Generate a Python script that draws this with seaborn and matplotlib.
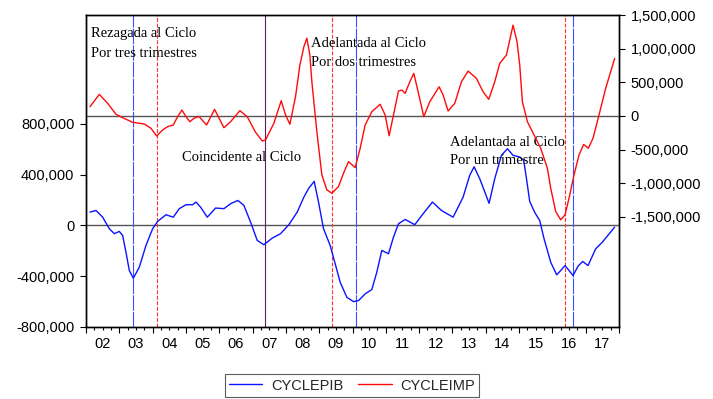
import matplotlib
matplotlib.use("Agg")
import matplotlib.pyplot as plt
import matplotlib.ticker as mticker
from matplotlib.lines import Line2D
import numpy as np
import pandas as pd
import seaborn as sns

# ---------------- data ----------------
series_names = ["CYCLEPIB", "CYCLEIMP"]

pib_year = [2002.12, 2002.30, 2002.50, 2002.70, 2002.85, 2003.00, 2003.10, 2003.20, 2003.30, 2003.42,
            2003.60, 2003.80, 2004.00, 2004.15, 2004.40, 2004.62, 2004.80, 2005.00, 2005.20, 2005.30,
            2005.44, 2005.64, 2005.89, 2006.14, 2006.34, 2006.56, 2006.74, 2006.94, 2007.14, 2007.34,
            2007.59, 2007.84, 2008.09, 2008.34, 2008.54, 2008.68, 2008.85, 2008.98, 2009.13, 2009.33,
            2009.48, 2009.63, 2009.83, 2010.03, 2010.18, 2010.38, 2010.58, 2010.73, 2010.88, 2011.08,
            2011.23, 2011.38, 2011.58, 2011.87, 2012.12, 2012.40, 2012.67, 2013.02, 2013.32, 2013.52,
            2013.65, 2013.82, 2014.10, 2014.27, 2014.47, 2014.65, 2014.82, 2015.02, 2015.14, 2015.23,
            2015.32, 2015.47, 2015.62, 2015.75, 2015.95, 2016.13, 2016.25, 2016.38, 2016.50, 2016.62,
            2016.77, 2016.91, 2017.07, 2017.30, 2017.50, 2017.87]
pib_value = [105000, 118000, 65000, -26000, -65000, -47000, -79000, -211000, -355000, -416000,
             -329000, -158000, -26000, 32000, 84000, 65000, 132000, 163000, 163000, 184000,
             144000, 65000, 137000, 132000, 171000, 197000, 158000, 26000, -118000, -152000,
             -100000, -65000, 6000, 105000, 223000, 290000, 347000, 184000, -26000, -158000,
             -302000, -447000, -566000, -600000, -592000, -539000, -505000, -368000, -197000, -223000,
             -92000, 13000, 47000, 6000, 92000, 184000, 118000, 65000, 223000, 395000,
             462000, 368000, 174000, 368000, 552000, 604000, 552000, 539000, 513000, 355000,
             189000, 103000, 39000, -105000, -290000, -389000, -355000, -316000, -355000, -395000,
             -321000, -284000, -316000, -184000, -132000, -13000]

imp_year = [2002.12, 2002.40, 2002.65, 2002.90, 2003.10, 2003.40, 2003.75, 2003.95, 2004.12, 2004.30,
            2004.45, 2004.62, 2004.75, 2004.88, 2005.00, 2005.12, 2005.24, 2005.39, 2005.62, 2005.86,
            2006.14, 2006.34, 2006.62, 2006.84, 2007.09, 2007.29, 2007.39, 2007.64, 2007.86, 2007.99,
            2008.12, 2008.29, 2008.42, 2008.54, 2008.63, 2008.72, 2008.78, 2008.93, 2009.08, 2009.23,
            2009.38, 2009.58, 2009.73, 2009.88, 2010.08, 2010.23, 2010.38, 2010.58, 2010.83, 2010.98,
            2011.10, 2011.23, 2011.38, 2011.48, 2011.58, 2011.72, 2011.84, 2011.97, 2012.14, 2012.32,
            2012.60, 2012.72, 2012.87, 2013.07, 2013.27, 2013.47, 2013.72, 2013.92, 2014.09, 2014.27,
            2014.42, 2014.62, 2014.82, 2014.94, 2015.02, 2015.10, 2015.25, 2015.45, 2015.65, 2015.85,
            2015.95, 2016.10, 2016.25, 2016.38, 2016.50, 2016.65, 2016.80, 2016.94, 2017.08, 2017.22,
            2017.40, 2017.60, 2017.87]
imp_value = [138000, 322000, 189000, 25000, -25000, -94000, -119000, -183000, -297000, -208000,
             -159000, -134000, -10000, 89000, -10000, -85000, -34000, -7000, -134000, 99000,
             -174000, -85000, 79000, -10000, -242000, -371000, -356000, -108000, 227000, 15000,
             -123000, 287000, 757000, 1029000, 1158000, 906000, 509000, -233000, -876000, -1099000,
             -1148000, -1050000, -851000, -679000, -768000, -480000, -134000, 64000, 174000, 15000,
             -293000, 15000, 371000, 386000, 337000, 509000, 634000, 361000, -10000, 212000,
             435000, 312000, 74000, 189000, 509000, 668000, 560000, 361000, 248000, 509000,
             783000, 906000, 1351000, 1103000, 757000, 212000, -85000, -282000, -480000, -777000,
             -1074000, -1421000, -1544000, -1470000, -1222000, -876000, -579000, -423000, -480000, -331000,
             15000, 411000, 857000]

year_labels = ["02", "03", "04", "05", "06", "07", "08", "09", "10",
               "11", "12", "13", "14", "15", "16", "17"]
left_ticks = [-800000, -400000, 0, 400000, 800000]
right_ticks = [-1500000, -1000000, -500000, 0, 500000, 1000000, 1500000]

blue_markers = [2003.40, 2010.12, 2016.62]
red_markers = [2004.135, 2009.387, 2016.376]
coincident_markers = [2007.38]

annotation_texts = ["Rezagada al Ciclo", "Por tres trimestres",
                    "Coincidente al Ciclo",
                    "Adelantada al Ciclo", "Por dos trimestres",
                    "Adelantada al Ciclo", "Por un trimestre"]

# ---------------- style ----------------
sns.set_style("ticks")
plt.rcParams['font.family'] = ['Liberation Sans', 'DejaVu Sans']

BLUE = "#0a14ff"
RED = "#ff0a0a"

fig = plt.figure(figsize=(7.13, 3.99), dpi=100)
W, H = 713, 399
ax = fig.add_axes([86 / W, 1 - 327 / H, 533 / W, 312 / H])
ax2 = ax.twinx()

pib_df = pd.DataFrame({"year": pib_year, "value": pib_value})
imp_df = pd.DataFrame({"year": imp_year, "value": imp_value})

# zero reference lines
ax.axhline(0, color="#555555", lw=1.0, zorder=1)
ax2.axhline(0, color="#555555", lw=1.0, zorder=1)

# marker lines
for xv in blue_markers:
    ax.axvline(xv, color="#3a50ff", lw=0.8, dashes=(14, 1.0), zorder=2)
for xv in red_markers:
    ax.axvline(xv, color="#ff3030", lw=0.8, dashes=(3.5, 1.5), zorder=2)
for xv in coincident_markers:
    ax.axvline(xv, color="#6a1a55", lw=0.8, zorder=2)

sns.lineplot(data=pib_df, x="year", y="value", ax=ax, color=BLUE, lw=1.0,
             estimator=None, sort=False, legend=False, zorder=3)
sns.lineplot(data=imp_df, x="year", y="value", ax=ax2, color=RED, lw=1.0,
             estimator=None, sort=False, legend=False, zorder=3)

# axes limits
ax.set_xlim(2002.0, 2018.0)
ax.set_ylim(-800000, 1657500)
ax2.set_ylim(-3138000, 1502000)

fmt = mticker.FuncFormatter(lambda v, p: f"{v:,.0f}")
ax.set_yticks(left_ticks)
ax.yaxis.set_major_formatter(fmt)
ax2.set_yticks(right_ticks)
ax2.yaxis.set_major_formatter(fmt)

# x axis: year boundaries as major ticks, quarters as minor, labels at mid-year
ax.set_xticks(np.arange(2002, 2019, 1))
ax.xaxis.set_major_formatter(mticker.NullFormatter())
ax.set_xticks(np.arange(2002, 2018.01, 0.25), minor=True)
lab_map = {2002.5 + i: lab for i, lab in enumerate(year_labels)}
ax.xaxis.set_minor_formatter(mticker.FuncFormatter(
    lambda v, p: lab_map.get(round(v, 2), "")))

ax.set_xlabel("")
ax.set_ylabel("")
ax2.set_ylabel("")

for a in (ax, ax2):
    for s in a.spines.values():
        s.set_color("black")
        s.set_linewidth(1.0)

ax.tick_params(axis="x", which="major", direction="out", length=4.3, width=0.8,
               color="black", bottom=True, top=False)
ax.tick_params(axis="x", which="minor", direction="out", length=2.3, width=0.8,
               color="black", bottom=True, top=False, labelsize=10.5, pad=5,
               labelcolor="black")
ax.tick_params(axis="y", which="major", direction="out", length=4.3, width=0.8,
               color="black", left=True, right=False, labelsize=10.5, pad=4,
               labelcolor="black")
ax2.tick_params(axis="y", which="major", direction="out", length=4.3, width=0.8,
                color="black", right=True, left=False, labelsize=10.5, pad=4,
                labelcolor="black")

# annotations (positions in data coordinates of the left axis)
serif = ['Liberation Serif', 'DejaVu Serif']
ann_pos = [(2002.14, 1481000), (2002.14, 1324000),
           (2004.87, 505000),
           (2008.75, 1407000), (2008.75, 1255000),
           (2012.92, 626000), (2012.92, 481000)]
for txt, (xx, yy) in zip(annotation_texts, ann_pos):
    ax.text(xx, yy, txt, family=serif, fontsize=10.5, color="black",
            ha="left", va="baseline", zorder=5)

# legend
handles = [Line2D([0], [0], color=BLUE, lw=1.0),
           Line2D([0], [0], color=RED, lw=1.0)]
leg = fig.legend(handles, series_names, loc="center", ncol=2,
                 bbox_to_anchor=(352 / W, 1 - 385.5 / H),
                 frameon=True, fancybox=False, fontsize=10.5,
                 handlelength=2.3, handletextpad=0.6, columnspacing=1.0,
                 borderpad=0.3, borderaxespad=0.0, edgecolor="#333333")
leg.get_frame().set_linewidth(0.8)

fig.savefig("out.png", dpi=100)
